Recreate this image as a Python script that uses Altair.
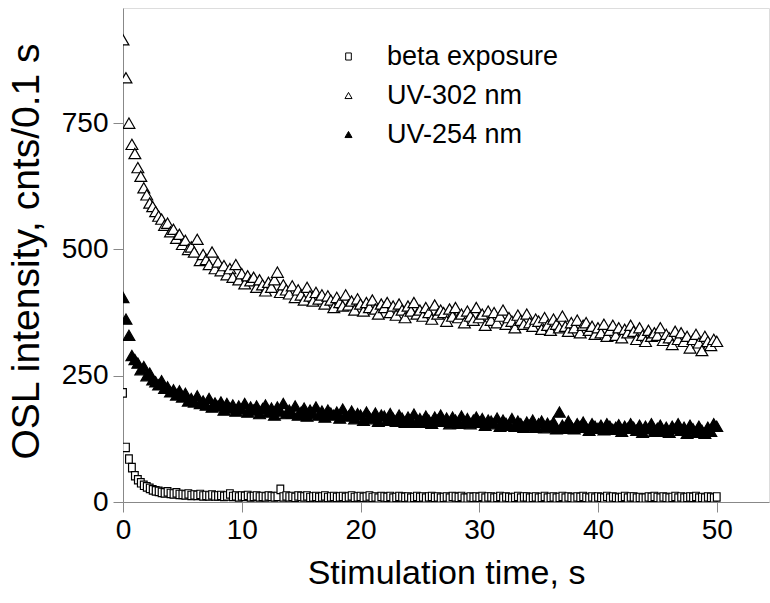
import altair as alt
import pandas as pd

T_STEP = 0.25
N = 201
times = [round(i * T_STEP, 2) for i in range(N)]

series_names = ["beta exposure", "UV-302 nm", "UV-254 nm"]

beta = [
    216, 108, 85, 68, 52, 44, 38, 33, 30, 27, 24, 22, 21, 19, 18, 20,
    17, 16, 18, 15, 15, 14, 16, 13, 14, 13, 15, 12, 13, 12, 14, 12,
    12, 13, 11, 12, 16, 11, 12, 10, 12, 11, 13, 10, 11, 12, 10, 11,
    10, 12, 11, 10, 11, 25, 10, 12, 10, 11, 9, 12, 11, 10, 12, 9,
    10, 11, 9, 10, 12, 9, 10, 11, 9, 10, 11, 9, 10, 12, 9, 10,
    11, 9, 10, 12, 9, 10, 8, 11, 10, 9, 11, 8, 9, 11, 10, 9,
    10, 8, 9, 11, 9, 10, 8, 10, 11, 9, 10, 8, 9, 10, 8, 11,
    10, 9, 11, 8, 8, 10, 9, 10, 9, 11, 8, 10, 10, 8, 9, 11,
    8, 10, 9, 8, 9, 11, 8, 10, 10, 8, 9, 10, 8, 9, 11, 8,
    9, 10, 8, 9, 11, 8, 10, 9, 8, 10, 9, 11, 9, 8, 10, 8,
    10, 9, 8, 11, 8, 10, 9, 8, 9, 11, 8, 10, 10, 8, 9, 8,
    8, 10, 9, 11, 9, 8, 10, 9, 8, 9, 11, 8, 10, 8, 9, 10,
    9, 11, 8, 9, 8, 10, 9, 8, 10,
]

uv302 = [
    915, 840, 750, 708, 690, 662, 645, 622, 608, 592, 585, 575, 566, 560, 548, 552,
    535, 540, 522, 530, 510, 518, 500, 505, 495, 520, 478, 490, 480, 470, 495, 462,
    475, 458, 468, 450, 462, 445, 470, 440, 452, 432, 448, 438, 445, 425, 440, 430,
    418, 435, 425, 440, 455, 415, 430, 420, 412, 428, 405, 420, 410, 400, 425, 408,
    398, 415, 402, 410, 392, 408, 400, 385, 405, 395, 388, 410, 390, 398, 380, 402,
    392, 378, 395, 385, 400, 382, 372, 392, 385, 395, 375, 388, 370, 392, 380, 365,
    388, 378, 395, 372, 380, 368, 385, 375, 362, 390, 372, 380, 375, 358, 382, 368,
    385, 365, 372, 355, 378, 368, 360, 385, 365, 372, 350, 378, 360, 375, 355, 368,
    380, 352, 365, 358, 345, 370, 360, 352, 372, 355, 348, 362, 358, 342, 365, 350,
    340, 362, 352, 345, 368, 348, 338, 355, 345, 360, 335, 350, 355, 340, 348, 332,
    345, 335, 352, 328, 340, 350, 330, 345, 325, 342, 335, 350, 338, 322, 345, 330,
    318, 340, 328, 335, 330, 345, 320, 332, 325, 312, 338, 322, 335, 318, 328, 305,
    322, 332, 315, 300, 328, 318, 310, 322, 318,
]

uv254 = [
    405, 362, 330, 290, 282, 275, 262, 268, 250, 255, 242, 238, 232, 240, 225, 228,
    218, 222, 212, 220, 208, 215, 200, 205, 198, 210, 195, 200, 192, 205, 188, 196,
    190, 198, 182, 195, 186, 192, 180, 190, 184, 195, 178, 188, 182, 190, 175, 185,
    192, 178, 186, 172, 188, 180, 195, 175, 182, 176, 190, 172, 178, 186, 170, 182,
    175, 188, 172, 180, 168, 182, 176, 172, 178, 166, 184, 172, 170, 180, 165, 175,
    172, 162, 178, 168, 165, 176, 160, 172, 170, 162, 175, 165, 160, 172, 166, 158,
    168, 162, 174, 158, 165, 158, 170, 162, 156, 168, 162, 172, 160, 166, 155, 168,
    162, 156, 170, 158, 165, 155, 162, 168, 158, 165, 152, 162, 160, 155, 166, 150,
    162, 156, 152, 165, 150, 160, 155, 148, 158, 152, 162, 148, 155, 160, 147, 156,
    150, 158, 145, 178, 152, 146, 160, 150, 145, 155, 150, 158, 148, 142, 155, 150,
    146, 152, 143, 155, 150, 144, 148, 153, 140, 150, 146, 155, 148, 142, 152, 138,
    150, 145, 155, 140, 146, 152, 140, 148, 138, 150, 145, 155, 142, 148, 136, 152,
    145, 138, 150, 142, 136, 148, 140, 155, 150,
]

x_ticks = [0, 10, 20, 30, 40, 50]
y_ticks = [0, 250, 500, 750]

FONT = "Liberation Sans"
SQUARE = "M-0.8,-1H0.8V1H-0.8Z"
TRI = "triangle-up"

shape_scale = alt.Scale(domain=series_names, range=[SQUARE, TRI, TRI])
fill_scale = alt.Scale(domain=series_names, range=["white", "white", "black"])
stroke_scale = alt.Scale(domain=series_names, range=["black", "black", "black"])

legend = alt.Legend(title=None, orient="none", legendX=212, legendY=35,
                    padding=0, labelFontSize=27, labelFont=FONT, labelLimit=400,
                    symbolSize=50, symbolStrokeWidth=1,
                    labelOffset=25, rowPadding=11, labelColor="black")

x_enc = alt.X("t:Q",
              scale=alt.Scale(domain=[0, 54.4], nice=False, zero=False),
              axis=alt.Axis(values=x_ticks, title="Stimulation time, s", grid=False,
                            tickSize=10, labelPadding=4, titlePadding=12,
                            labelFontSize=28, titleFontSize=34, titleFontWeight="normal",
                            labelFlush=False))
y_enc = alt.Y("v:Q",
              scale=alt.Scale(domain=[0, 978], nice=False),
              axis=alt.Axis(values=y_ticks, title="OSL intensity, cnts/0.1 s", grid=False,
                            tickSize=10, labelPadding=5, labelFontSize=28, titleFontSize=39,
                            titleFontWeight="normal",
                            titleAngle=270, titleX=-97, titleY=243, titleAlign="center",
                            titleBaseline="middle", labelFlush=False))


def layer(name, vals, size):
    d = pd.DataFrame({"t": times, "v": vals, "series": [name] * len(vals)})
    return alt.Chart(d).mark_point(filled=False, strokeWidth=1.2,
                                   opacity=1, size=size, clip=True).encode(
        x=x_enc, y=y_enc,
        shape=alt.Shape("series:N", scale=shape_scale, legend=legend),
        fill=alt.Fill("series:N", scale=fill_scale, legend=legend),
        stroke=alt.Stroke("series:N", scale=stroke_scale, legend=legend),
    )


chart = alt.layer(
    layer("beta exposure", beta, 70),
    layer("UV-302 nm", uv302, 140),
    layer("UV-254 nm", uv254, 140),
).properties(
    width=646, height=494,
    autosize=alt.AutoSizeParams(type="none"),
    padding={"left": 123, "top": 8, "right": 1, "bottom": 101},
).configure_view(strokeWidth=0, stroke="transparent").configure_axis(
    domainColor="black", domainWidth=2, tickColor="black", tickWidth=2,
    labelColor="black", titleColor="black", labelFont=FONT, titleFont=FONT,
    titleFontWeight="normal",
).configure(background="white")

chart.save("out.html", embed_options={"renderer": "svg", "actions": False})
